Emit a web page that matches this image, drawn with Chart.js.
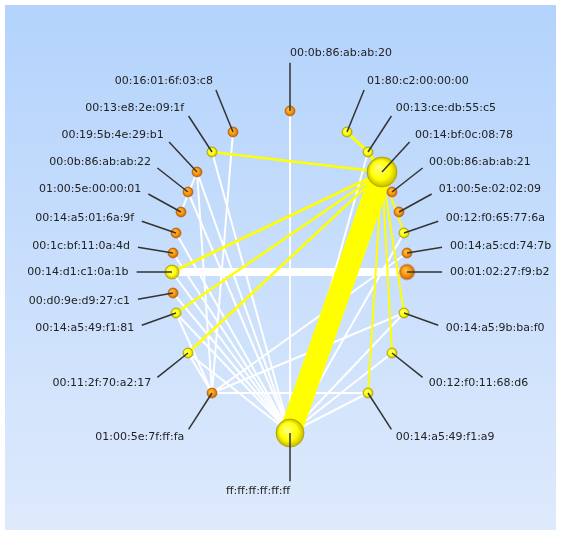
<!DOCTYPE html>
<html>
<head>
<meta charset="utf-8">
<script src="https://cdn.jsdelivr.net/npm/chart.js"></script>
<style>
  html, body { margin: 0; padding: 0; background: #ffffff; }
  #wrap { width: 561px; height: 533px; }
</style>
</head>
<body>
<div id="wrap"><canvas id="graph" width="561" height="533"></canvas></div>
<script>
// node list (circle layout, centre = 0,0)
const nodeNames = [
    '00:0b:86:ab:ab:20', '01:80:c2:00:00:00', '00:13:ce:db:55:c5', '00:14:bf:0c:08:78',
    '00:0b:86:ab:ab:21', '01:00:5e:02:02:09', '00:12:f0:65:77:6a', '00:14:a5:cd:74:7b',
    '00:01:02:27:f9:b2', '00:14:a5:9b:ba:f0', '00:12:f0:11:68:d6', '00:14:a5:49:f1:a9',
    'ff:ff:ff:ff:ff:ff', '01:00:5e:7f:ff:fa', '00:11:2f:70:a2:17', '00:14:a5:49:f1:81',
    '00:d0:9e:d9:27:c1', '00:14:d1:c1:0a:1b', '00:1c:bf:11:0a:4d', '00:14:a5:01:6a:9f',
    '01:00:5e:00:00:01', '00:0b:86:ab:ab:22', '00:19:5b:4e:29:b1', '00:13:e8:2e:09:1f',
    '00:16:01:6f:03:c8'
];
const nodeX = [0, 57, 78, 92, 102, 109, 114, 117, 117, 114, 102, 78, 0, -78, -102, -114, -117, -118, -117, -114, -109, -102, -93, -78, -57];
const nodeY = [161, 140, 120, 100, 80, 60, 39, 19, 0, -41, -81, -121, -161, -121, -81, -41, -21, 0, 19, 39, 60, 80, 100, 120, 140];
const nodeSize = [5, 5, 5, 15, 5, 5, 5, 5, 7.5, 5, 5, 5, 14, 5, 5, 5, 5, 7, 5, 5, 5, 5, 5, 5, 5];
const nodeKind = ['o', 'y', 'y', 'y', 'o', 'o', 'y', 'o', 'o', 'y', 'y', 'y', 'y', 'o', 'y', 'y', 'o', 'y', 'o', 'o', 'o', 'o', 'o', 'y', 'o'];

// links
const edgeFrom  = [17, 0, 24, 22, 23, 22, 21, 22, 19, 18, 17, 16, 15, 15, 14, 14, 13, 13, 13, 12, 12, 12, 12, 12,
                   12, 3, 3, 3, 3, 3, 2, 3, 3, 3, 3];
const edgeTo    = [8, 12, 13, 13, 12, 12, 12, 20, 12, 12, 12, 12, 12, 13, 12, 13, 11, 7, 9, 11, 10, 9, 6, 2,
                   3, 23, 17, 15, 14, 2, 1, 6, 9, 10, 11];
const edgeWidth = [8, 2, 2, 2, 2, 2, 2, 2, 2, 2, 2, 2, 2, 2, 2, 2, 2, 2, 2, 2, 2, 2, 2, 2,
                   22, 2.5, 2.5, 2.5, 2.5, 3, 3, 2, 2, 2, 2];
const edgeKind  = ['w', 'w', 'w', 'w', 'w', 'w', 'w', 'w', 'w', 'w', 'w', 'w', 'w', 'w', 'w', 'w', 'w', 'w', 'w', 'w', 'w', 'w', 'w', 'w',
                   'y', 'y', 'y', 'y', 'y', 'y', 'y', 'y', 'y', 'y', 'y'];

const LABEL_FONT = '11px "DejaVu Sans", Verdana, sans-serif';

// kleine Kugel als Punktbild
function makeBall(r, kind) {
    const c = document.createElement('canvas');
    const s = Math.ceil(r * 2 + 4);
    c.width = s;
    c.height = s;
    const g = c.getContext('2d');
    const cx = s / 2, cy = s / 2;
    const grad = g.createRadialGradient(cx - r * 0.25, cy - r * 0.3, r * 0.1, cx, cy, r);
    if (kind === 'y') {
        grad.addColorStop(0, '#ffff70');
        grad.addColorStop(0.6, '#ffff00');
        grad.addColorStop(1, '#c8b800');
    } else {
        grad.addColorStop(0, '#ffc040');
        grad.addColorStop(0.55, '#f79a10');
        grad.addColorStop(1, '#c86400');
    }
    g.beginPath();
    g.arc(cx, cy, r, 0, Math.PI * 2);
    g.fillStyle = grad;
    g.fill();
    g.lineWidth = 1;
    g.strokeStyle = kind === 'y' ? 'rgba(150,140,0,0.6)' : 'rgba(170,80,0,0.6)';
    g.stroke();
    return c;
}

const panelBackground = {
    id: 'panelBackground',
    beforeDraw(chart) {
        const ctx = chart.ctx;
        ctx.save();
        ctx.fillStyle = '#ffffff';
        ctx.fillRect(0, 0, chart.width, chart.height);
        const grad = ctx.createLinearGradient(0, 5, 0, 530);
        grad.addColorStop(0, '#b3d3fc');
        grad.addColorStop(1, '#deeafc');
        ctx.fillStyle = grad;
        ctx.fillRect(5, 5, 551, 525);
        ctx.restore();
    }
};

// Beschriftung mit Hinweislinie
const nodeLabels = {
    id: 'nodeLabels',
    afterDatasetsDraw(chart) {
        const ctx = chart.ctx;
        const xs = chart.scales.x, ys = chart.scales.y;
        const cx = xs.getPixelForValue(0), cy = ys.getPixelForValue(0);
        ctx.save();
        ctx.font = LABEL_FONT;
        ctx.textBaseline = 'middle';
        nodeNames.forEach((name, i) => {
            const px = xs.getPixelForValue(nodeX[i]);
            const py = ys.getPixelForValue(nodeY[i]);
            const ex = xs.getPixelForValue(nodeX[i] * 1.3);
            const ey = ys.getPixelForValue(nodeY[i] * 1.3);
            const len = Math.hypot(px - cx, py - cy) || 1;
            const dx = (px - cx) / len, dy = (py - cy) / len;

            ctx.beginPath();
            ctx.moveTo(px, py);
            ctx.lineTo(ex, ey);
            ctx.strokeStyle = '#333333';
            ctx.lineWidth = 1.5;
            ctx.stroke();

            const right = dx > 0.01 || (Math.abs(dx) <= 0.01 && dy < 0);
            ctx.textAlign = right ? 'left' : 'right';
            ctx.fillStyle = '#222222';
            ctx.fillText(name, ex + dx * 8, ey + dy * 9.5);
        });
        ctx.restore();
    }
};

const pt = i => ({ x: nodeX[i], y: nodeY[i] });

const datasets = edgeFrom.map((f, k) => ({
    data: [pt(f), pt(edgeTo[k])],
    showLine: true,
    borderColor: edgeKind[k] === 'y' ? '#ffff00' : '#ffffff',
    borderWidth: edgeWidth[k],
    pointRadius: 0,
    order: edgeKind[k] === 'y' ? 1 : 2
}));

datasets.push({
    data: nodeNames.map((n, i) => pt(i)),
    pointStyle: nodeNames.map((n, i) => makeBall(nodeSize[i], nodeKind[i])),
    pointRadius: nodeSize,
    showLine: false,
    order: 0
});

new Chart(document.getElementById('graph'), {
    type: 'scatter',
    data: { datasets: datasets },
    options: {
        responsive: false,
        animation: false,
        events: [],
        layout: { padding: 0, autoPadding: false },
        plugins: {
            legend: { display: false },
            tooltip: { enabled: false }
        },
        scales: {
            x: { type: 'linear', min: -290, max: 271, display: false },
            y: { type: 'linear', min: -261, max: 272, display: false }
        }
    },
    plugins: [panelBackground, nodeLabels]
});
</script>
</body>
</html>
